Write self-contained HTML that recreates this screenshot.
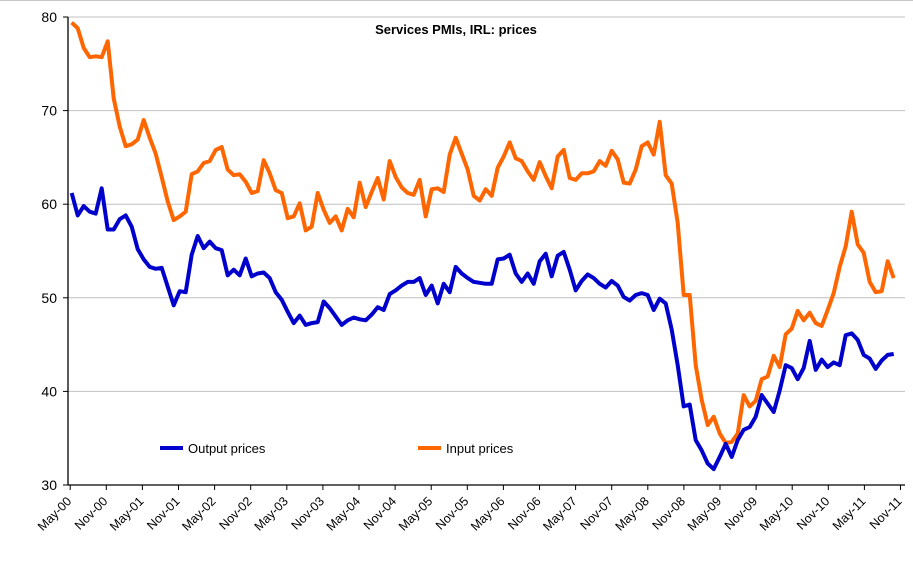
<!DOCTYPE html>
<html><head><meta charset="utf-8">
<style>
body{margin:0;background:#fff;}
svg{display:block;font-family:"Liberation Sans",sans-serif;}
</style></head>
<body>
<svg id="chart" width="913" height="564">
<line x1="0" y1="0.5" x2="913" y2="0.5" stroke="#c8c8c8"/>
<g id="grid"></g>
<g id="yaxis"></g>
<g id="xaxis"></g>
<g id="series"></g>
<text x="456" y="34" text-anchor="middle" font-size="13" font-weight="bold">Services PMIs, IRL: prices</text>
<g>
<line x1="160" y1="448" x2="183" y2="448" stroke="#0000cc" stroke-width="4"/>
<text x="188" y="453" font-size="13">Output prices</text>
</g>
<g>
<line x1="418" y1="448" x2="441" y2="448" stroke="#ff6600" stroke-width="4"/>
<text x="446" y="453" font-size="13">Input prices</text>
</g>
</svg>
<script>
const yTicks=[30,40,50,60,70,80];
const xTickLabels=["May-00","Nov-00","May-01","Nov-01","May-02","Nov-02","May-03","Nov-03","May-04","Nov-04","May-05","Nov-05","May-06","Nov-06","May-07","Nov-07","May-08","Nov-08","May-09","Nov-09","May-10","Nov-10","May-11","Nov-11"];
const outputPrices=[61.2,58.8,59.8,59.2,59.0,61.7,57.3,57.3,58.4,58.8,57.6,55.2,54.1,53.3,53.1,53.2,51.2,49.2,50.7,50.6,54.6,56.6,55.3,56.0,55.3,55.1,52.4,53.0,52.4,54.2,52.3,52.6,52.7,52.1,50.6,
49.8,48.5,47.3,48.1,47.1,47.3,47.4,49.6,48.9,48.0,47.1,47.6,47.9,47.7,47.6,48.2,49.0,48.7,50.4,50.8,51.3,51.7,51.7,52.1,50.3,51.3,49.4,51.5,50.6,53.3,52.6,52.1,51.7,51.6,51.5,51.5,54.1,
54.2,54.6,52.6,51.7,52.6,51.5,53.9,54.7,52.3,54.5,54.9,53.0,50.8,51.8,52.5,52.1,51.5,51.1,51.8,51.3,50.1,49.7,50.3,50.5,50.3,48.7,49.9,49.4,46.6,
42.8,38.4,38.6,34.8,33.7,32.3,31.7,33.0,34.4,33.0,34.8,35.9,36.2,37.3,39.6,38.7,37.8,40.1,42.8,42.5,41.3,42.5,45.4,42.3,43.4,42.6,43.1,42.8,46.0,46.2,45.5,43.9,43.5,42.4,43.3,43.9,44.0];
const inputPrices=[79.4,78.8,76.7,75.7,75.8,75.7,77.4,71.3,68.3,66.2,66.4,66.9,69.0,67.1,65.4,62.9,60.3,58.3,58.7,59.2,63.2,63.5,64.4,64.6,65.8,66.1,63.7,63.1,63.2,62.4,61.2,61.4,64.7,63.3,61.5,61.2,
58.5,58.7,60.1,57.2,57.6,61.2,59.4,58.0,58.7,57.2,59.5,58.6,62.3,59.7,61.3,62.8,60.5,64.6,62.9,61.8,61.2,61.0,62.6,58.7,61.6,61.7,61.3,65.3,67.1,65.4,63.7,60.9,60.4,61.6,60.9,63.9,
65.1,66.6,64.9,64.6,63.5,62.6,64.5,63.0,61.7,65.1,65.8,62.8,62.6,63.3,63.3,63.5,64.6,64.1,65.7,64.8,62.3,62.2,63.7,66.2,66.6,65.3,68.8,63.1,62.2,58.0,50.3,50.3,42.8,
39.1,36.4,37.3,35.5,34.5,34.6,35.5,39.6,38.4,39.0,41.3,41.6,43.8,42.6,46.1,46.7,48.6,47.6,48.4,47.3,47.0,48.7,50.5,53.3,55.5,59.2,55.7,54.8,51.7,50.6,50.7,53.9,52.1];

const NS="http://www.w3.org/2000/svg";
const X0=71.7, DX=6.0, TICK0=70.2, TICKDX=36.1;
function xs(i){return X0+i*DX;}
function ys(v){return 485-(v-30)*9.36;}
function mk(tag,attrs,parent){const e=document.createElementNS(NS,tag);for(const k in attrs)e.setAttribute(k,attrs[k]);parent.appendChild(e);return e;}
const grid=document.getElementById('grid'),ya=document.getElementById('yaxis'),xa=document.getElementById('xaxis'),ser=document.getElementById('series');
yTicks.forEach(t=>{
  if(t>30){const g=mk('line',{x1:68,x2:905,y1:ys(t),y2:ys(t),stroke:'#c0c0c0','stroke-width':1},grid);
  
  }
  mk('line',{x1:63,x2:68,y1:ys(t),y2:ys(t),stroke:'#000'},ya);
  const l=mk('text',{x:57,y:ys(t)+5,'text-anchor':'end','font-size':14},ya);
  l.textContent=t;
  
  
});
mk('line',{x1:68,x2:68,y1:17,y2:485,stroke:'#000','stroke-width':1.3},ya);
mk('line',{x1:68,x2:905,y1:485,y2:485,stroke:'#000','stroke-width':1.3},xa);
xTickLabels.forEach((lab,k)=>{
  const x=TICK0+k*TICKDX;
  mk('line',{x1:x,x2:x,y1:485,y2:490,stroke:'#000'},xa);
  const t=mk('text',{x:x+2,y:502,'text-anchor':'end','font-size':12.5,transform:`rotate(-45 ${x+2} 502)`},xa);
  t.textContent=lab;
  
  
});
function line(vals,color,name){
  const p=mk('polyline',{points:vals.map((v,i)=>xs(i).toFixed(1)+','+ys(v).toFixed(1)).join(' '),fill:'none',stroke:color,'stroke-width':4,'stroke-linejoin':'round'},ser);
  
  
}
line(inputPrices,'#ff6600','input-prices-line');
line(outputPrices,'#0000cc','output-prices-line');
</script>
</body></html>
